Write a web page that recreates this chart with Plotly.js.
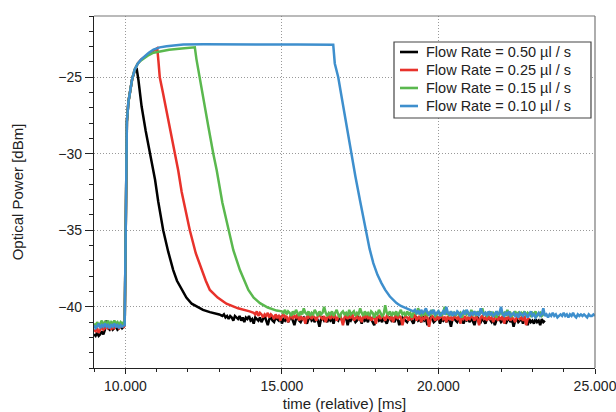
<!DOCTYPE html>
<html>
<head>
<meta charset="utf-8">
<script src="https://cdn.plot.ly/plotly-3.0.1.min.js"></script>
<style>html,body{margin:0;padding:0;background:#fff}#chart{width:616px;height:412px}</style>
</head>
<body>
<div id="chart"></div>
<script>
// ---------- DATA ----------
const seriesNames = ["Flow Rate = 0.50 µl / s", "Flow Rate = 0.25 µl / s", "Flow Rate = 0.15 µl / s", "Flow Rate = 0.10 µl / s"];

// pre-trigger noise, sampled from 9.00 ms every 0.05 ms
const preStart = 9.0, preStep = 0.05;
const blackPre = [-41.8,-41.9,-41.7,-41.9,-41.8,-41.6,-41.8,-41.5,-40.9,-41.4,-41.5,-41.3,-41.5,-41.4,-41.3,-41.5,-41.4,-41.2,-41.4,-41.3];
const redPre   = [-41.5,-41.6,-41.4,-41.7,-41.5,-41.3,-41.5,-41.4,-41.2,-41.4,-41.3,-41.5,-41.2,-41.4,-41.3,-41.2,-41.4,-41.3,-41.2,-41.3];
const greenPre = [-41.1,-41.3,-41.0,-41.2,-41.1,-40.9,-41.2,-41.0,-41.1,-40.9,-41.2,-41.0,-41.1,-40.9,-41.1,-41.0,-41.2,-41.0,-41.1,-41.0];
const bluePre  = [-41.2,-41.4,-41.3,-41.1,-41.4,-41.2,-41.3,-41.1,-41.3,-41.2,-41.4,-41.2,-41.3,-41.1,-41.3,-41.2,-41.4,-41.2,-41.3,-41.2];

// rise / plateau / decay points
const blackT = [9.98,10.0,10.02,10.05,10.1,10.15,10.22,10.3,10.36,10.42,10.52,10.65,10.79,10.89,10.95,11.05,11.21,11.37,11.53,11.65,11.8,11.95,12.12,12.3,12.48,12.7,13.0];
const blackV = [-41.2,-37.5,-31.0,-27.9,-26.6,-25.85,-25.1,-24.6,-24.4,-25.2,-26.9,-28.5,-30.0,-31.1,-31.7,-33.1,-35.0,-36.4,-37.6,-38.3,-38.9,-39.4,-39.8,-40.0,-40.2,-40.35,-40.5];
const redT = [9.98,10.0,10.02,10.05,10.1,10.15,10.22,10.3,10.4,10.5,10.65,10.8,10.95,11.02,11.06,11.1,11.2,11.35,11.47,11.59,11.69,11.8,11.93,12.06,12.25,12.44,12.57,12.7,12.95,13.23,13.6,13.97];
const redV = [-41.2,-37.5,-31.0,-27.9,-26.6,-25.85,-25.1,-24.5,-24.1,-23.85,-23.6,-23.4,-23.2,-23.1,-24.0,-25.0,-26.0,-27.5,-28.8,-30.0,-31.1,-32.5,-33.8,-35.0,-36.5,-37.6,-38.3,-38.9,-39.4,-39.8,-40.1,-40.3];
const greenT = [9.98,10.0,10.02,10.05,10.1,10.15,10.22,10.3,10.4,10.5,10.6,10.75,10.9,11.1,11.4,11.8,12.22,12.27,12.38,12.5,12.65,12.81,12.92,13.1,13.29,13.45,13.66,13.8,13.93,14.1,14.3,14.55,14.83];
const greenV = [-41.2,-37.5,-31.0,-27.9,-26.6,-25.85,-25.1,-24.5,-24.1,-23.9,-23.75,-23.55,-23.4,-23.3,-23.2,-23.12,-23.05,-23.8,-25.0,-26.4,-28.2,-30.0,-31.1,-33.2,-35.0,-36.3,-37.6,-38.3,-38.9,-39.4,-39.76,-40.05,-40.25];
const blueT = [9.98,10.0,10.02,10.05,10.1,10.15,10.22,10.3,10.4,10.5,10.6,10.75,10.9,11.1,11.32,11.6,11.85,12.5,13.5,14.5,15.5,16.2,16.64,16.69,16.8,16.9,17.0,17.1,17.22,17.35,17.5,17.68,17.8,17.92,18.05,18.18,18.3,18.45,18.55,18.66,18.8,18.95,19.09];
const blueV = [-41.2,-37.5,-31.0,-27.9,-26.6,-25.85,-25.1,-24.5,-24.1,-23.85,-23.65,-23.4,-23.2,-23.05,-22.97,-22.9,-22.87,-22.85,-22.84,-22.86,-22.87,-22.87,-22.88,-24.1,-25.0,-26.2,-27.4,-28.6,-30.0,-31.5,-33.1,-35.0,-36.2,-37.15,-37.9,-38.45,-38.9,-39.33,-39.55,-39.76,-39.95,-40.1,-40.2];

// settled noise, sampled every 0.05 ms from the given start
const tailStep = 0.05;
const blackTailStart = 13.1;
const blackTail = [
 -40.6,-40.5,-40.7,-40.6,-40.8,-40.6,-40.7,-40.9,-40.6,-40.7,
 -40.8,-40.6,-40.9,-40.7,-41.0,-40.7,-40.8,-40.6,-40.9,-40.8,
 -41.1,-40.7,-40.8,-40.9,-40.7,-41.0,-40.8,-40.6,-40.9,-41.2,
 -40.8,-40.7,-40.9,-41.0,-40.7,-40.8,-40.9,-40.6,-41.1,-40.8,
 -40.9,-40.7,-41.0,-40.8,-40.6,-40.9,-41.2,-40.8,-40.7,-40.9,
 -41.0,-40.8,-40.7,-40.9,-41.1,-40.8,-40.6,-40.9,-40.8,-41.0,
 -40.7,-40.9,-41.3,-40.8,-40.7,-40.9,-40.8,-41.0,-40.7,-40.9,
 -40.8,-41.1,-40.7,-40.8,-40.9,-40.6,-40.8,-41.0,-40.8,-40.7,
 -41.2,-40.8,-40.9,-40.7,-40.8,-41.0,-40.9,-40.7,-40.8,-41.1,
 -40.7,-40.9,-40.8,-41.0,-40.6,-40.8,-40.9,-41.2,-40.8,-40.7,
 -40.9,-40.8,-41.0,-40.7,-40.9,-41.1,-40.8,-40.7,-40.9,-40.8,
 -41.0,-40.7,-40.8,-41.2,-40.9,-40.7,-40.8,-40.9,-41.0,-40.8,
 -40.7,-40.9,-41.1,-40.8,-40.7,-40.9,-40.8,-41.0,-40.6,-40.9,
 -40.8,-41.2,-40.9,-40.7,-40.8,-41.0,-40.9,-40.8,-40.7,-41.1,
 -40.8,-40.9,-40.7,-41.0,-40.8,-40.9,-41.3,-40.8,-40.7,-40.9,
 -41.0,-40.8,-40.9,-40.7,-41.1,-40.8,-40.9,-40.8,-41.0,-40.7,
 -40.9,-41.2,-40.8,-40.7,-40.9,-41.0,-40.8,-40.9,-41.1,-40.8,
 -40.7,-40.9,-41.0,-40.8,-41.2,-40.9,-40.7,-40.8,-41.0,-40.9,
 -40.8,-41.1,-40.9,-40.7,-41.0,-40.8,-41.3,-40.9,-40.8,-41.0,
 -40.9,-40.7,-41.1,-40.8,-40.9,-41.2,-40.8,-41.0,-40.9,-41.1,
 -40.8,-41.0,-40.9,-41.2,-40.8,-41.0,-40.9];
const redTailStart = 14.1;
const redTail = [
 -40.4,-40.5,-40.3,-40.6,-40.4,-40.5,-40.7,-40.5,-40.6,-40.4,
 -40.7,-40.5,-40.6,-40.8,-40.5,-40.7,-40.6,-40.9,-40.6,-40.5,
 -40.7,-40.6,-41.0,-40.7,-40.5,-40.8,-40.6,-40.7,-40.5,-40.9,
 -40.6,-40.8,-40.7,-41.1,-40.6,-40.7,-40.5,-40.8,-40.6,-40.7,
 -40.9,-40.6,-40.5,-40.7,-40.8,-40.6,-41.0,-40.7,-40.6,-40.8,
 -40.5,-40.7,-40.6,-40.9,-40.7,-40.5,-40.8,-41.2,-40.7,-40.6,
 -40.8,-40.6,-40.7,-40.5,-40.9,-40.7,-40.6,-40.8,-40.7,-41.0,
 -40.6,-40.7,-40.5,-40.8,-40.6,-40.9,-40.7,-40.6,-41.1,-40.7,
 -40.6,-40.8,-40.5,-40.7,-40.9,-40.6,-40.7,-40.8,-40.6,-41.0,
 -40.7,-40.5,-40.8,-40.6,-40.7,-41.2,-40.8,-40.6,-40.7,-40.9,
 -40.6,-40.8,-40.7,-40.5,-40.9,-40.7,-40.6,-41.0,-40.7,-40.8,
 -40.6,-40.7,-41.3,-40.8,-40.6,-40.7,-40.9,-40.6,-40.8,-40.7,
 -40.5,-40.8,-40.7,-41.0,-40.6,-40.8,-40.7,-40.9,-40.6,-40.7,
 -40.8,-40.6,-41.1,-40.7,-40.8,-40.6,-40.9,-40.7,-40.8,-40.6,
 -40.7,-40.9,-40.6,-40.8,-41.2,-40.7,-40.6,-40.8,-40.7,-40.9,
 -40.6,-40.8,-40.7,-41.0,-40.7,-40.6,-40.9,-40.7,-40.8,-40.6,
 -41.1,-40.7,-40.8,-40.6,-40.9,-40.7,-40.8,-41.0,-40.7,-40.6,
 -40.8,-40.7,-40.9,-40.6,-41.2,-40.8,-40.7];
const greenTailStart = 15.0;
const greenTail = [
 -40.3,-40.4,-40.2,-40.5,-40.3,-40.4,-40.6,-40.3,-40.5,-40.2,
 -40.4,-40.6,-40.3,-40.5,-40.1,-40.4,-40.5,-40.3,-40.6,-40.4,
 -40.5,-40.2,-40.4,-40.6,-40.3,-40.5,-40.4,-40.0,-40.4,-40.6,
 -40.4,-40.5,-40.3,-40.6,-40.4,-40.2,-40.5,-40.7,-40.4,-40.3,
 -40.5,-40.4,-40.6,-40.2,-40.5,-40.4,-40.3,-40.6,-40.4,-40.5,
 -40.1,-40.4,-40.6,-40.3,-40.5,-40.4,-40.6,-40.3,-40.4,-40.7,
 -40.4,-40.5,-40.2,-40.4,-40.6,-40.5,-39.9,-40.4,-40.5,-40.3,
 -40.6,-40.4,-40.5,-40.3,-40.6,-40.4,-40.2,-40.5,-40.4,-40.6,
 -40.3,-40.5,-40.4,-40.7,-40.4,-40.3,-40.5,-40.1,-40.4,-40.6,
 -40.4,-40.5,-40.3,-40.6,-40.4,-40.5,-40.2,-40.4,-40.6,-40.5,
 -40.3,-40.4,-40.6,-40.4,-40.0,-40.5,-40.4,-40.6,-40.3,-40.5,
 -40.4,-40.6,-40.3,-40.5,-40.4,-40.7,-40.4,-40.3,-40.5,-40.4,
 -40.6,-40.2,-40.5,-40.4,-40.6,-40.3,-40.5,-40.4,-40.1,-40.5,
 -40.4,-40.6,-40.5,-40.3,-40.6,-40.4,-40.5,-40.7,-40.4,-40.5,
 -40.3,-40.5,-40.4,-40.6,-40.2,-40.5,-40.4,-40.6,-40.5,-40.3,
 -40.5,-40.4,-40.6,-40.4,-40.5,-40.3,-40.6,-40.4,-40.5,-40.6,
 -40.4,-40.5,-40.3,-40.6,-40.5,-40.4,-40.6,-40.5,-40.4];
const blueTailStart = 19.2;
const blueTail = [
 -40.3,-40.2,-40.4,-40.3,-40.5,-40.2,-40.4,-40.3,-40.1,-40.4,
 -40.5,-40.3,-40.4,-40.2,-40.5,-40.4,-40.3,-40.6,-40.4,-40.3,
 -40.5,-40.0,-40.4,-40.5,-40.3,-40.6,-40.4,-40.5,-40.3,-40.4,
 -40.6,-40.4,-40.3,-40.5,-40.2,-40.4,-40.6,-40.4,-40.5,-40.3,
 -40.5,-40.4,-40.6,-40.1,-40.4,-40.5,-40.4,-40.6,-40.3,-40.5,
 -40.4,-40.6,-40.5,-40.3,-40.5,-40.4,-40.0,-40.5,-40.6,-40.4,
 -40.5,-40.3,-40.6,-40.5,-40.4,-40.6,-40.5,-40.7,-40.4,-40.5,
 -40.6,-40.4,-40.5,-40.7,-40.5,-40.3,-40.6,-40.5,-40.7,-40.5,
 -40.4,-40.6,-40.5,-40.1,-40.6,-40.5,-40.7,-40.5,-40.6,-40.4,
 -40.6,-40.5,-40.7,-40.6,-40.5,-40.6,-40.4,-40.6,-40.5,-40.7,
 -40.5,-40.6,-40.4,-40.6,-40.7,-40.5,-40.6,-40.5,-40.6,-40.5,
 -40.6,-40.7,-40.5,-40.6,-40.6,-40.5,-40.6];

const colors = ["#000000", "#e8322b", "#5ab84e", "#3e8fcd"];

// ---------- BUILD ----------
function sampled(start, step, vals) {
  return vals.map((_, i) => +(start + i * step).toFixed(3));
}
function series(pre, t, v, tailStart, tail) {
  return {
    x: sampled(preStart, preStep, pre).concat(t, sampled(tailStart, tailStep, tail)),
    y: pre.concat(v, tail)
  };
}
const all = [
  series(blackPre, blackT, blackV, blackTailStart, blackTail),
  series(redPre, redT, redV, redTailStart, redTail),
  series(greenPre, greenT, greenV, greenTailStart, greenTail),
  series(bluePre, blueT, blueV, blueTailStart, blueTail)
];
const traces = all.map((s, i) => ({
  type: "scatter", mode: "lines", x: s.x, y: s.y, name: seriesNames[i],
  line: {color: colors[i], width: 2.5}, showlegend: false
}));

const fam = "Liberation Sans, Arial, sans-serif";
const font = {family: fam, size: 14, color: "#222"};
const titleFont = {family: fam, size: 15, color: "#222"};

// legend box (paper coordinates)
const legX0 = 0.5988, legX1 = 0.992, legY0 = 0.7102, legY1 = 0.9261;
const legRowY = [0.8977, 0.8466, 0.7955, 0.7443];
const legLineX0 = 0.6108, legLineX1 = 0.6467, legTextX = 0.6587;

const shapes = [
  {type: "line", xref: "paper", yref: "paper", x0: 0, x1: 1, y0: 1, y1: 1, line: {color: "#777", width: 1.2}},
  {type: "line", xref: "paper", yref: "paper", x0: 1, x1: 1, y0: 0, y1: 1, line: {color: "#777", width: 1.2}},
  {type: "rect", xref: "paper", yref: "paper", x0: legX0, x1: legX1, y0: legY0, y1: legY1,
   fillcolor: "#fff", line: {color: "#444", width: 1.2}}
];
const annotations = [];
seriesNames.forEach((n, i) => {
  shapes.push({type: "line", xref: "paper", yref: "paper", x0: legLineX0, x1: legLineX1, y0: legRowY[i], y1: legRowY[i],
    line: {color: colors[i], width: 2.6}});
  annotations.push({xref: "paper", yref: "paper", x: legTextX, y: legRowY[i], xanchor: "left", yanchor: "middle",
    text: n, showarrow: false, font: {family: fam, size: 14.5, color: "#222"}});
});

const layout = {
  width: 616, height: 412,
  margin: {l: 94, r: 21, t: 16, b: 44},
  paper_bgcolor: "#fff", plot_bgcolor: "#fff",
  font: font,
  showlegend: false,
  xaxis: {
    range: [9, 25], tick0: 0, dtick: 5, tickformat: ".3f", ticklabeloverflow: "allow",
    ticks: "outside", ticklen: 5, tickcolor: "#222", tickwidth: 1,
    minor: {dtick: 1, ticks: "outside", ticklen: 3, tickcolor: "#222", showgrid: false},
    showline: true, linecolor: "#222", linewidth: 1.2, mirror: false,
    showgrid: true, gridcolor: "#999", griddash: "1px,2px", gridwidth: 1,
    zeroline: false,
    title: {text: "time (relative) [ms]", font: titleFont, standoff: 5}
  },
  yaxis: {
    range: [-44, -21], tick0: 0, dtick: 5,
    ticks: "outside", ticklen: 8, tickcolor: "#222", tickwidth: 1,
    minor: {dtick: 1, ticks: "outside", ticklen: 4, tickcolor: "#222", showgrid: false},
    showline: true, linecolor: "#222", linewidth: 1.2, mirror: false,
    showgrid: true, gridcolor: "#999", griddash: "1px,2px", gridwidth: 1,
    zeroline: false,
    title: {text: "Optical Power [dBm]", font: titleFont, standoff: 31}
  },
  shapes: shapes,
  annotations: annotations
};
Plotly.newPlot("chart", traces, layout, {displayModeBar: false, staticPlot: true});
</script>
</body>
</html>
